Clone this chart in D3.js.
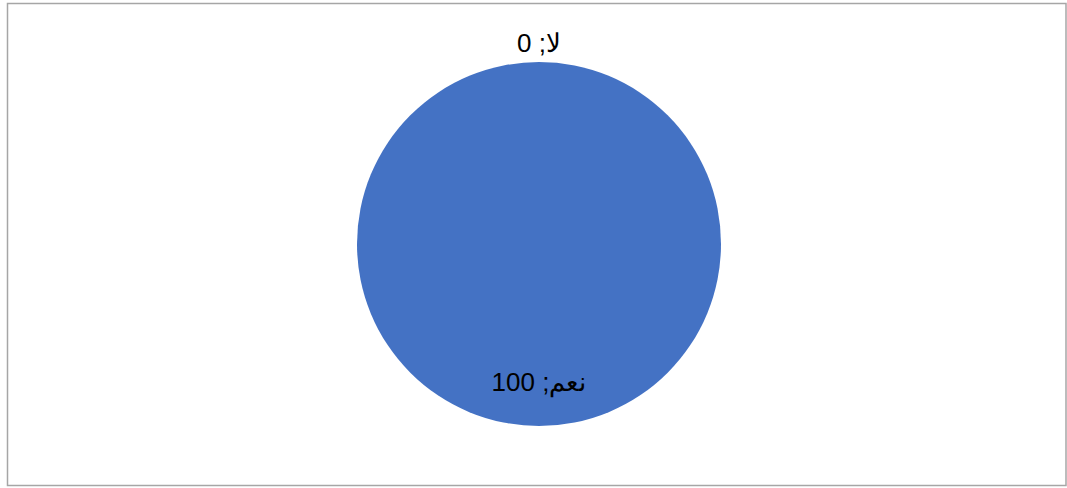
<!DOCTYPE html>
<html>
<head>
<meta charset="utf-8">
<script src="https://cdnjs.cloudflare.com/ajax/libs/d3/7.8.5/d3.min.js"></script>
<style>
  body { margin: 0; background: #fff; }
  svg { display: block; font-family: "Liberation Sans", Arial, sans-serif; }
</style>
</head>
<body>
<script>
// data
const categories = ["نعم", "لا"];
const values = [100, 0];
const colours = ["#4472C4", "#ED7D31"];

const w = 1067, h = 488;
const cx = 539, cy = 244, r = 182;

const svg = d3.select("body").append("svg")
  .attr("width", w)
  .attr("height", h);

// chart area border
svg.append("rect")
  .attr("x", 7.5).attr("y", 3.5)
  .attr("width", 1058.5).attr("height", 482)
  .attr("fill", "#fff")
  .attr("stroke", "#a6a6a6")
  .attr("stroke-width", 1.5);

const pie = d3.pie().sort(null).value((d, i) => values[i]);
const slices = pie(categories);

const arc = d3.arc().innerRadius(0).outerRadius(r);

const g = svg.append("g").attr("transform", "translate(" + cx + "," + cy + ")");

g.selectAll("path")
  .data(slices)
  .enter()
  .append("path")
  .attr("d", arc)
  .attr("fill", (d, i) => colours[i]);

// labels: inside for the full slice, just outside for the empty one
const inLabel = d3.arc().innerRadius(r * 0.76).outerRadius(r * 0.76);
const outLabel = d3.arc().innerRadius(r + 19).outerRadius(r + 19);

g.selectAll("text")
  .data(slices)
  .enter()
  .append("text")
  .attr("transform", (d) => {
    const p = (d.value > 0 ? inLabel : outLabel).centroid(d);
    return "translate(" + p[0] + "," + p[1] + ")";
  })
  .attr("direction", "rtl")
  .attr("text-anchor", "middle")
  .attr("dy", "0.35em")
  .attr("font-size", "26px")
  .attr("fill", "#000")
  .text((d) => d.data + "; " + d.value);
</script>
</body>
</html>
